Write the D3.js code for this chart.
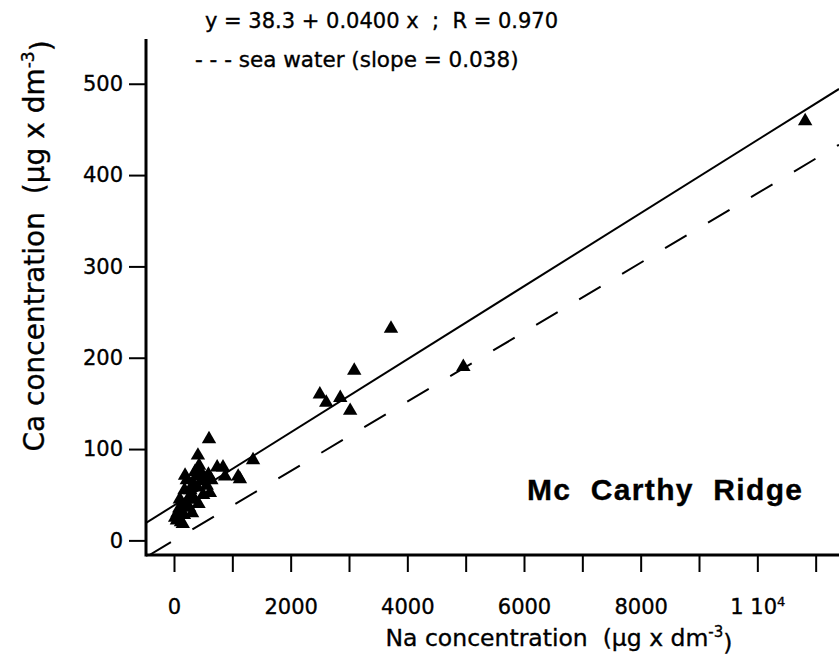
<!DOCTYPE html>
<html>
<head>
<meta charset="utf-8">
<script src="https://cdn.jsdelivr.net/npm/d3@7"></script>
<style>
	body { margin: 0; background: #fff; }
	svg { display: block; }
	text { font-family: "DejaVu Sans", sans-serif; fill: #000; stroke: #000; stroke-width: 0.35px; }
</style>
</head>
<body>
<div id="chart"></div>
<script>
// Na (x) and Ca (y) concentrations
var naValues = [10820, 4960, 3720, 3090, 2500, 2610, 2850, 3020,
	1355, 1130, 1100, 840, 875, 740, 600, 410, 430, 190, 615,
	20, 60, 90, 120, 150, 170, 200, 240, 260, 280, 300, 330, 350, 380,
	400, 420, 450, 470, 500, 530, 560, 590, 640, 100, 180, 220, 310, 140, 50, 360];
var caValues = [459, 190, 232, 186, 160, 151, 156, 142,
	88, 67, 70, 80, 70, 80, 111, 93, 82, 71, 52,
	25, 30, 35, 20, 18, 28, 40, 45, 36, 55, 50, 62, 45, 70,
	58, 40, 76, 65, 50, 68, 60, 72, 66, 45, 55, 66, 30, 38, 22, 75];

var xTicks = [0, 1000, 2000, 3000, 4000, 5000, 6000, 7000, 8000, 9000, 10000, 11000];
var xLabels = ['0', '', '2000', '', '4000', '', '6000', '', '8000', '', '1 10', ''];
var yTicks = [0, 100, 200, 300, 400, 500];

var fitIntercept = 38.3, fitSlope = 0.0400;
var seaSlope = 0.038;

var width = 839, height = 656;

var svg = d3.select('#chart').append('svg')
	.attr('width', width)
	.attr('height', height);

var x = d3.scaleLinear().domain([-480, 11400]).range([146, 839]);
var y = d3.scaleLinear().domain([-16, 549]).range([555, 39]);

svg.append('clipPath').attr('id', 'plotclip')
	.append('rect')
	.attr('x', 146).attr('y', 39)
	.attr('width', 839 - 146).attr('height', 555 - 39);

var plot = svg.append('g').attr('clip-path', 'url(#plotclip)');

var xd = x.domain();

// regression line
plot.append('line')
	.attr('x1', x(xd[0])).attr('y1', y(fitIntercept + fitSlope * xd[0]))
	.attr('x2', x(xd[1])).attr('y2', y(fitIntercept + fitSlope * xd[1]))
	.attr('stroke', '#000')
	.attr('stroke-width', 2);

// sea water line, starts where it meets the bottom of the frame
var seaStart = y.domain()[0] / seaSlope;
plot.append('line')
	.attr('x1', x(seaStart)).attr('y1', y(seaSlope * seaStart))
	.attr('x2', x(xd[1])).attr('y2', y(seaSlope * xd[1]))
	.attr('stroke', '#000')
	.attr('stroke-width', 2)
	.attr('stroke-dasharray', '25,25');

var tri = d3.symbol().type(d3.symbolTriangle).size(90);
plot.selectAll('path.pt')
	.data(naValues)
	.enter().append('path')
	.attr('class', 'pt')
	.attr('d', tri)
	.attr('transform', function(d, i){
		return 'translate(' + x(d) + ',' + y(caValues[i]) + ')';
	})
	.attr('fill', '#000');

// x axis
var xAxis = d3.axisBottom(x)
	.tickValues(xTicks)
	.tickSize(17)
	.tickPadding(27)
	.tickFormat(function(d, i){ return xLabels[i]; });

var gx = svg.append('g')
	.attr('transform', 'translate(0,555)')
	.call(xAxis);
gx.select('.domain').remove();
gx.selectAll('line').attr('stroke-width', 2);
gx.selectAll('text')
	.style('font-family', '"DejaVu Sans", sans-serif')
	.style('font-size', '21px');
gx.selectAll('.tick').filter(function(d){ return d === 10000; })
	.select('text')
	.append('tspan')
	.attr('dy', '-0.6em')
	.style('font-size', '13px')
	.text('4');

svg.append('line')
	.attr('x1', 146).attr('x2', 839)
	.attr('y1', 555).attr('y2', 555)
	.attr('stroke', '#000')
	.attr('stroke-width', 3);

// y axis
var yAxis = d3.axisLeft(y)
	.tickValues(yTicks)
	.tickSize(17)
	.tickPadding(6);

var gy = svg.append('g')
	.attr('transform', 'translate(146,0)')
	.call(yAxis);
gy.select('.domain').remove();
gy.selectAll('line').attr('stroke-width', 2);
gy.selectAll('text')
	.style('font-family', '"DejaVu Sans", sans-serif')
	.style('font-size', '21px');

svg.append('line')
	.attr('x1', 146).attr('x2', 146)
	.attr('y1', 39).attr('y2', 556.5)
	.attr('stroke', '#000')
	.attr('stroke-width', 3);

// axis titles
var xTitle = svg.append('text')
	.attr('x', 559).attr('y', 646)
	.attr('text-anchor', 'middle')
	.style('font-size', '23.5px')
	.style('white-space', 'pre');
xTitle.append('tspan').text('Na concentration  (\u00b5g x dm');
xTitle.append('tspan').attr('dy', '-0.6em').style('font-size', '15px').text('-3');
xTitle.append('tspan').attr('dy', '0.6em').text(')');

var yTitle = svg.append('text')
	.attr('transform', 'translate(44,246) rotate(-90)')
	.attr('text-anchor', 'middle')
	.style('font-size', '28px')
	.style('white-space', 'pre');
yTitle.append('tspan').text('Ca concentration  (\u00b5g x dm');
yTitle.append('tspan').attr('dy', '-0.6em').style('font-size', '17px').text('-3');
yTitle.append('tspan').attr('dy', '0.6em').text(')');

// equation and legend
svg.append('text')
	.attr('x', 205).attr('y', 28)
	.style('font-size', '21px')
	.style('white-space', 'pre')
	.text('y = 38.3 + 0.0400 x  ;  R = 0.970');

svg.append('text')
	.attr('x', 195).attr('y', 67)
	.style('font-size', '21.5px')
	.style('white-space', 'pre')
	.text('- - - sea water (slope = 0.038)');

svg.append('text')
	.attr('x', 527).attr('y', 500)
	.attr('textLength', 275)
	.attr('lengthAdjust', 'spacing')
	.style('font-family', '"Liberation Sans", Arial, sans-serif')
	.style('font-weight', 'bold')
	.style('font-size', '30px')
	.style('white-space', 'pre')
	.text('Mc  Carthy  Ridge');
</script>
</body>
</html>
